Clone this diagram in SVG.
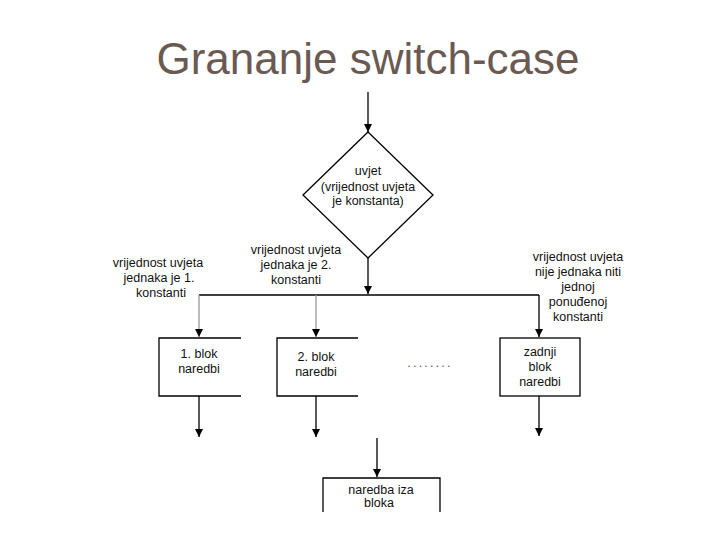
<svg xmlns="http://www.w3.org/2000/svg" width="720" height="540" viewBox="0 0 720 540">
<defs>
<marker id="ah" viewBox="0 0 8 8" refX="8" refY="4" markerWidth="8" markerHeight="8" markerUnits="userSpaceOnUse" orient="auto">
<path d="M0,0 L8,4 L0,8 Z" fill="#000"/>
</marker>
<style>
.t{font-family:"Liberation Sans",Arial,sans-serif;font-size:12.5px;fill:#111;text-anchor:middle}
.ln{stroke:#000;stroke-width:1.3;fill:none}
.gl{stroke:#999;stroke-width:1.3;fill:none}
.bx{stroke:#000;stroke-width:1.3;fill:#fff}
</style>
</defs>
<rect width="720" height="540" fill="#fff"/>
<text x="368" y="74" font-family="'Liberation Sans',Arial,sans-serif" font-size="44" fill="#6a5a52" text-anchor="middle">Grananje switch-case</text>

<g id="connectors">
<line class="ln" x1="368" y1="92" x2="368" y2="132" marker-end="url(#ah)"/>
<line class="ln" x1="368" y1="258" x2="368" y2="294" marker-end="url(#ah)"/>
<line class="ln" x1="199" y1="295" x2="539" y2="295"/>
<line class="gl" x1="199" y1="295" x2="199" y2="337" marker-end="url(#ah)"/>
<line class="gl" x1="316" y1="295" x2="316" y2="337" marker-end="url(#ah)"/>
<line class="ln" x1="539" y1="295" x2="539" y2="337" marker-end="url(#ah)"/>
<line class="ln" x1="199" y1="396" x2="199" y2="437" marker-end="url(#ah)"/>
<line class="ln" x1="316" y1="396" x2="316" y2="437" marker-end="url(#ah)"/>
<line class="ln" x1="539" y1="396" x2="539" y2="436" marker-end="url(#ah)"/>
<line class="ln" x1="377" y1="438" x2="377" y2="477" marker-end="url(#ah)"/>
</g>

<g id="uvjet">
<polygon class="bx" points="368,132 433,195 368,258 303,195"/>
<text class="t" x="368" y="175">uvjet</text>
<text class="t" x="368" y="191">(vrijednost uvjeta</text>
<text class="t" x="368" y="205">je konstanta)</text>
</g>

<g id="label1">
<text class="t" x="158" y="267">vrijednost uvjeta</text>
<text class="t" x="159" y="282">jednaka je 1.</text>
<text class="t" x="161" y="297">konstanti</text>
</g>
<g id="label2">
<text class="t" x="296" y="254">vrijednost uvjeta</text>
<text class="t" x="296" y="269">jednaka je 2.</text>
<text class="t" x="296" y="284">konstanti</text>
</g>
<g id="label3">
<text class="t" x="578" y="261">vrijednost uvjeta</text>
<text class="t" x="578" y="276">nije jednaka niti</text>
<text class="t" x="578" y="291">jednoj</text>
<text class="t" x="578" y="306">ponuđenoj</text>
<text class="t" x="578" y="321">konstanti</text>
</g>

<g id="blok1">
<path class="ln" d="M241,338 H159 V396 H241"/>
<text class="t" x="199" y="358">1. blok</text>
<text class="t" x="199" y="373">naredbi</text>
</g>
<g id="blok2">
<path class="ln" d="M358,338 H277 V396 H358"/>
<text class="t" x="316" y="361">2. blok</text>
<text class="t" x="316" y="376">naredbi</text>
</g>
<g id="dots">
<text class="t" x="430" y="367" letter-spacing="2.2" fill="#555" style="fill:#555">........</text>
</g>
<g id="blok3">
<rect class="bx" x="500" y="338" width="80" height="58"/>
<text class="t" x="540" y="356">zadnji</text>
<text class="t" x="540" y="371">blok</text>
<text class="t" x="540" y="386">naredbi</text>
</g>
<g id="naredba">
<path class="ln" d="M323,512 V478 H440 V512"/>
<text class="t" x="381" y="494">naredba iza</text>
<text class="t" x="379" y="507">bloka</text>
</g>
</svg>
